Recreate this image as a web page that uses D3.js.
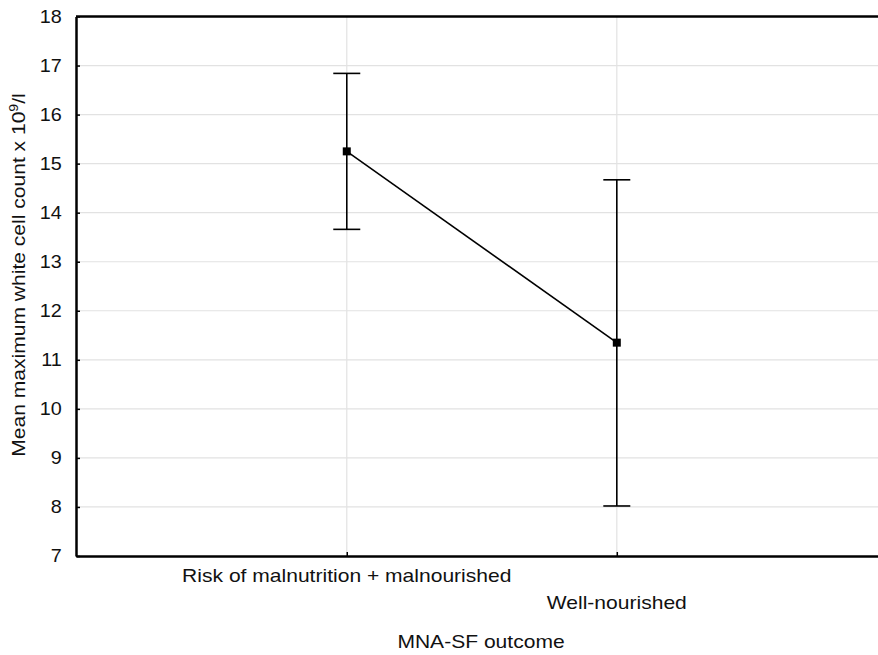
<!DOCTYPE html>
<html>
<head>
    <meta charset=utf-8>
    <title>MNA-SF outcome</title>
    <style>
        body { margin: 0; background: white; }
        svg { display: block; font-family: 'Liberation Sans', Arial, sans-serif; }
    </style>
</head>
<body>
<svg id=chart width=878 height=655></svg>
<script src="https://cdn.jsdelivr.net/npm/d3@7"></script>
<script>
    // data
    var categories = ['Risk of malnutrition + malnourished', 'Well-nourished'];
    var means = [15.25, 11.35];
    var upper = [16.84, 14.67];
    var lower = [13.66, 8.02];
    var yTicks = [7, 8, 9, 10, 11, 12, 13, 14, 15, 16, 17, 18];

    var data = categories.map((c, i) => ({cat: c, mean: means[i], hi: upper[i], lo: lower[i]}));

    //setup margins
    var margin = {top: 16.5, right: 0, bottom: 99, left: 76};
    var svg = d3.select('#chart');
    var width = svg.attr('width') - margin.left - margin.right;
    var height = svg.attr('height') - margin.top - margin.bottom;
    var g = svg.append('g')
        .attr('transform', 'translate(' + margin.left + ',' + margin.top + ')');

    var x = d3.scalePoint().domain(categories).range([0, width]).padding(0.985).align(0.509);
    var y = d3.scaleLinear().domain([7, 18]).range([height, 0]);

    var fs = 18, sx = 1.17; // the reference font is wider than Liberation Sans

    //gridlines
    g.append('g').selectAll('line').data(yTicks.slice(1, -1))
        .enter().append('line')
        .attr('x1', 0).attr('x2', width)
        .attr('y1', d => y(d)).attr('y2', d => y(d))
        .attr('stroke', '#e2e2e2').attr('stroke-width', 1.2);
    g.append('g').selectAll('line').data(categories)
        .enter().append('line')
        .attr('x1', d => x(d)).attr('x2', d => x(d))
        .attr('y1', 0).attr('y2', height)
        .attr('stroke', '#e2e2e2').attr('stroke-width', 1.2);

    //axes
    var yAxis = g.append('g')
        .call(d3.axisLeft(y).tickValues(yTicks).tickSizeInner(-4).tickSizeOuter(0).tickPadding(13));
    var xAxis = g.append('g')
        .attr('transform', 'translate(0,' + height + ')')
        .call(d3.axisBottom(x).tickSizeInner(-4).tickSizeOuter(0).tickFormat(''));
    [yAxis, xAxis].forEach(a => {
        a.select('.domain').attr('stroke-width', 2.5);
        a.selectAll('.tick line').attr('stroke-width', 1.5);
        a.selectAll('text').attr('font-size', fs).attr('font-family', null).attr('fill', '#111')
            .attr('transform', 'scale(1.1,1)');
    });
    g.append('line')
        .attr('x1', 0).attr('x2', width).attr('y1', 0).attr('y2', 0)
        .attr('stroke', 'black').attr('stroke-width', 2.5);

    //category labels, staggered
    g.append('g').selectAll('text').data(categories)
        .enter().append('text')
        .attr('transform', (d, i) => 'translate(' + x(d) + ',' + (height + 26 + i * 27) + ') scale(' + sx + ',1)')
        .attr('text-anchor', 'middle')
        .attr('font-size', fs)
        .attr('fill', '#111')
        .text(d => d);

    //axis titles
    g.append('text')
        .attr('transform', 'translate(405,' + (height + 92) + ') scale(' + sx + ',1)')
        .attr('text-anchor', 'middle')
        .attr('font-size', fs)
        .attr('fill', '#111')
        .text('MNA-SF outcome');

    var yt = svg.append('text')
        .attr('transform', 'translate(25,275) rotate(-90) scale(' + sx + ',1)')
        .attr('text-anchor', 'middle')
        .attr('font-size', fs)
        .attr('fill', '#111');
    yt.append('tspan').text('Mean maximum white cell count x 10');
    yt.append('tspan').attr('dy', -7).attr('font-size', 12).text('9');
    yt.append('tspan').attr('dy', 7).text('/l');

    //error bars
    var cap = 13.5;
    var bars = g.append('g').selectAll('g').data(data).enter().append('g')
        .attr('stroke', 'black').attr('stroke-width', 1.6);
    bars.append('line')
        .attr('x1', d => x(d.cat)).attr('x2', d => x(d.cat))
        .attr('y1', d => y(d.hi)).attr('y2', d => y(d.lo));
    bars.append('line')
        .attr('x1', d => x(d.cat) - cap).attr('x2', d => x(d.cat) + cap)
        .attr('y1', d => y(d.hi)).attr('y2', d => y(d.hi));
    bars.append('line')
        .attr('x1', d => x(d.cat) - cap).attr('x2', d => x(d.cat) + cap)
        .attr('y1', d => y(d.lo)).attr('y2', d => y(d.lo));

    //mean line
    g.append('path')
        .datum(data)
        .attr('fill', 'none')
        .attr('stroke', 'black')
        .attr('stroke-width', 1.6)
        .attr('d', d3.line().x(d => x(d.cat)).y(d => y(d.mean)));

    //markers
    g.selectAll('rect.m').data(data).enter().append('rect')
        .attr('class', 'm')
        .attr('x', d => x(d.cat) - 4).attr('y', d => y(d.mean) - 4)
        .attr('width', 8).attr('height', 8)
        .attr('fill', 'black');
</script>
</body>
</html>
